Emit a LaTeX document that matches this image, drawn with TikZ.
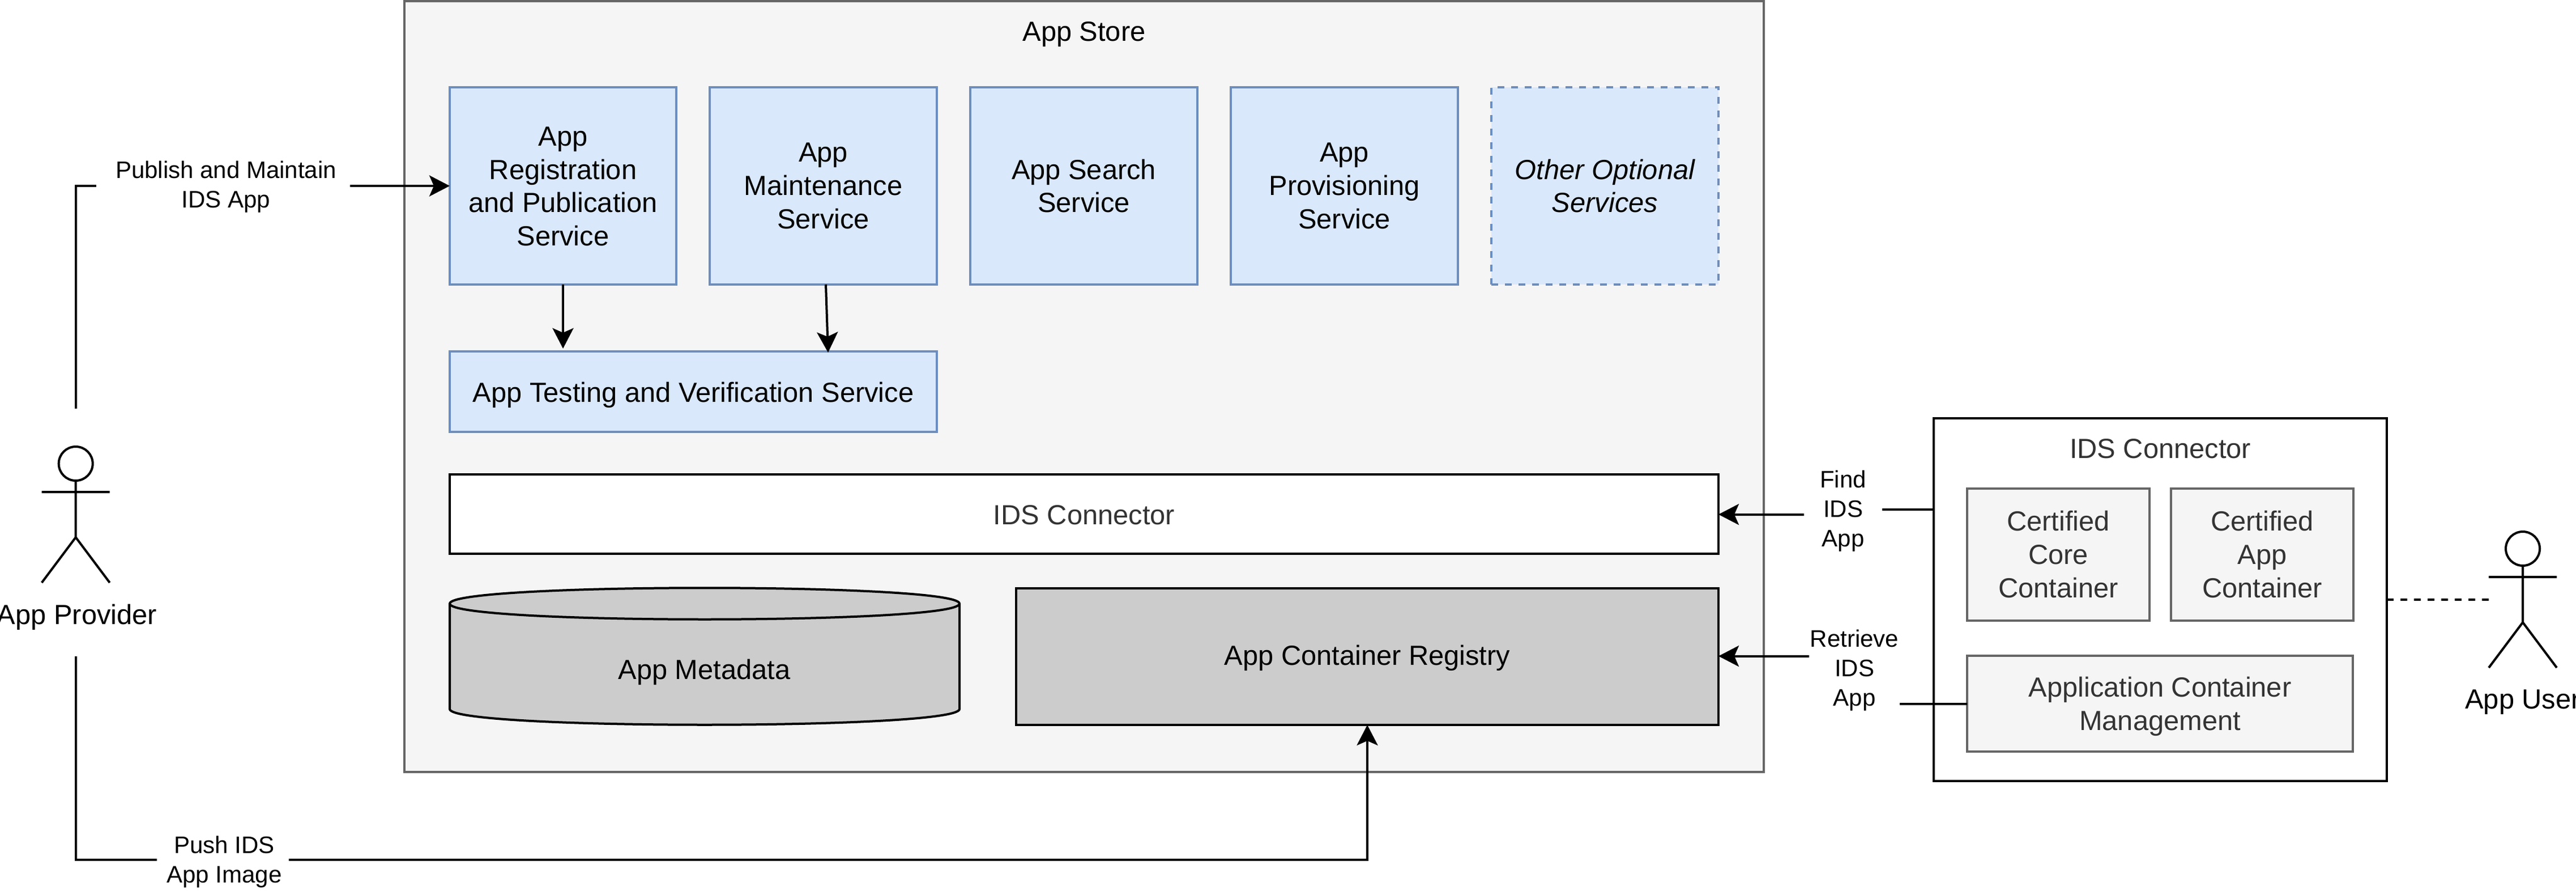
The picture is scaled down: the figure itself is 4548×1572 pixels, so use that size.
\documentclass[tikz,border=0pt]{standalone}
\usepackage{fontspec}
\setmainfont{Liberation Sans}
\usetikzlibrary{arrows.meta}
\definecolor{bluefill}{HTML}{DAE8FC}
\definecolor{blueline}{HTML}{6C8EBF}
\definecolor{lightfill}{HTML}{F5F5F5}
\definecolor{greyline}{HTML}{666666}
\definecolor{midgrey}{HTML}{CCCCCC}
\definecolor{softtext}{HTML}{333333}
\newcommand\dropped[2]{\raisebox{-#1}[\height][\depth]{\begin{tabular}{@{}c@{}}#2\end{tabular}}}
\tikzset{
  boxbase/.style={rectangle,draw,line width=2pt,outer sep=0pt,inner sep=0pt,align=center,
    font=\fontsize{24.4}{29.3}\selectfont},
  bluebox/.style={boxbase,draw=blueline,fill=bluefill},
  lightbox/.style={boxbase,draw=greyline,fill=lightfill,text=softtext},
  plainbox/.style={boxbase,draw=black,fill=white,text=softtext},
  greybox/.style={boxbase,draw=black,fill=midgrey},
  caption/.style={inner sep=0pt,outer sep=0pt,align=center,font=\fontsize{24.4}{29.3}\selectfont},
  edgelabel/.style={inner sep=0pt,outer sep=0pt,align=center,font=\fontsize{21}{26}\selectfont},
  conn/.style={draw=black,line width=2pt},
  arrowed/.style={conn,-{Stealth[length=18pt,width=18.5pt,inset=4pt]}},
  stickman/.pic={
    \draw[line width=2pt] (0,0) circle[radius=15pt];
    \draw[line width=2pt] (0,30) -- (0,130) (-60,50) -- (60,50) (-60,210) -- (0,130) -- (60,210);
  }
}
\begin{document}
\begin{tikzpicture}[x=0.5pt,y=-0.5pt]
\useasboundingbox (0,0) rectangle (4548,1572);

% App Store container
\node[lightbox,minimum width=1200pt,minimum height=680pt] (store) at (1914,682) {};
\node[caption] (storetitle) at (1914,61) {App Store};

% Services
\node[bluebox,minimum width=200pt,minimum height=174.3pt] (reg) at (994,328) {\dropped{2.8pt}{App\\Registration\\and Publication\\Service}};
\node[bluebox,minimum width=200.5pt,minimum height=174.3pt] (maint) at (1453.5,328) {App\\Maintenance\\Service};
\node[bluebox,minimum width=200.5pt,minimum height=174.3pt] (search) at (1913.5,328) {App Search\\Service};
\node[bluebox,minimum width=200.5pt,minimum height=174.3pt] (prov) at (2373.5,328) {App\\Provisioning\\Service};
\node[bluebox,dash pattern=on 6pt off 6pt,minimum width=200.5pt,minimum height=174.3pt,font=\fontsize{24.4}{29.3}\selectfont\itshape] (other) at (2833.5,328) {Other Optional\\Services};
\node[bluebox,minimum width=430pt,minimum height=70.75pt] (test) at (1224,691) {\dropped{3.6pt}{App Testing and Verification Service}};
\node[plainbox,minimum width=1120pt,minimum height=70pt] (idsbar) at (1914,907) {\dropped{3.6pt}{IDS Connector}};

% App Metadata cylinder
\draw[line width=2pt,fill=midgrey]
  (794,1065) .. controls (794,1028) and (1694,1028) .. (1694,1065)
  -- (1694,1251) .. controls (1694,1288) and (794,1288) .. (794,1251) -- cycle;
\draw[line width=2pt] (794,1065) .. controls (794,1102) and (1694,1102) .. (1694,1065);
\node[caption] (meta) at (1243.5,1186) {App Metadata};

\node[greybox,minimum width=620pt,minimum height=120.5pt] (registry) at (2414,1158.5) {\dropped{1.5pt}{App Container Registry}};

% Right-hand IDS Connector
\node[plainbox,minimum width=400pt,minimum height=320pt] (rconn) at (3814,1058) {};
\node[caption,text=softtext] (rtitle) at (3814,792) {IDS Connector};
\node[lightbox,minimum width=161pt,minimum height=116.5pt] (core) at (3634,978) {Certified\\Core\\Container};
\node[lightbox,minimum width=161pt,minimum height=116.5pt] (appc) at (3994,978) {Certified\\App\\Container};
\node[lightbox,minimum width=340.5pt,minimum height=84.5pt] (acm) at (3813.5,1241.5) {\dropped{3pt}{Application Container\\Management}};

% Actors
\pic at (133.7,818) {stickman};
\node[caption] (provider) at (136,1089) {App Provider};
\pic at (4454,968) {stickman};
\node[caption] (user) at (4454,1239) {App User};

% Edge labels
\node[edgelabel] (publabel) at (399,330) {Publish and Maintain\\IDS App};
\node[edgelabel] (pushlabel) at (396,1521) {Push IDS\\App Image};
\node[edgelabel] (findlabel) at (3254,902) {Find\\IDS\\App};
\node[edgelabel] (retrlabel) at (3274,1183) {Retrieve\\IDS\\App};

% Free ends of the connectors
\coordinate (provtop) at (133.7,721);
\coordinate (provbot) at (133.7,1158);
\coordinate (pubA) at (170,328);
\coordinate (pubB) at (618,328);
\coordinate (pushA) at (276.5,1517);
\coordinate (pushB) at (510,1517);
\coordinate (regtip) at (994,615);
\coordinate (mainfrom) at (1458,502);
\coordinate (maintip) at (1462,622);
\coordinate (findA) at (3185,907.6);
\coordinate (findB) at (3323,899);
\coordinate (retrA) at (3194,1157.6);
\coordinate (retrB) at (3354,1242);
\coordinate (dashA) at (4214,1058);
\coordinate (dashB) at (4394,1058);

% Connectors
\draw[conn] (provtop) |- (pubA);
\draw[arrowed] (pubB) -- (pubB -| reg.west);
\draw[conn] (provbot) |- (pushA);
\draw[arrowed] (pushB) -| (registry.south);
\draw[arrowed] (reg.south) -- (regtip);
\draw[arrowed] (mainfrom) -- (maintip);
\draw[arrowed] (findA) -- (findA -| idsbar.east);
\draw[conn] (findB) -- (findB -| rconn.west);
\draw[arrowed] (retrA) -- (retrA -| registry.east);
\draw[conn] (retrB) -- (retrB -| acm.west);
\draw[conn,dash pattern=on 6pt off 6pt] (dashA) -- (dashB);
\end{tikzpicture}
\end{document}
